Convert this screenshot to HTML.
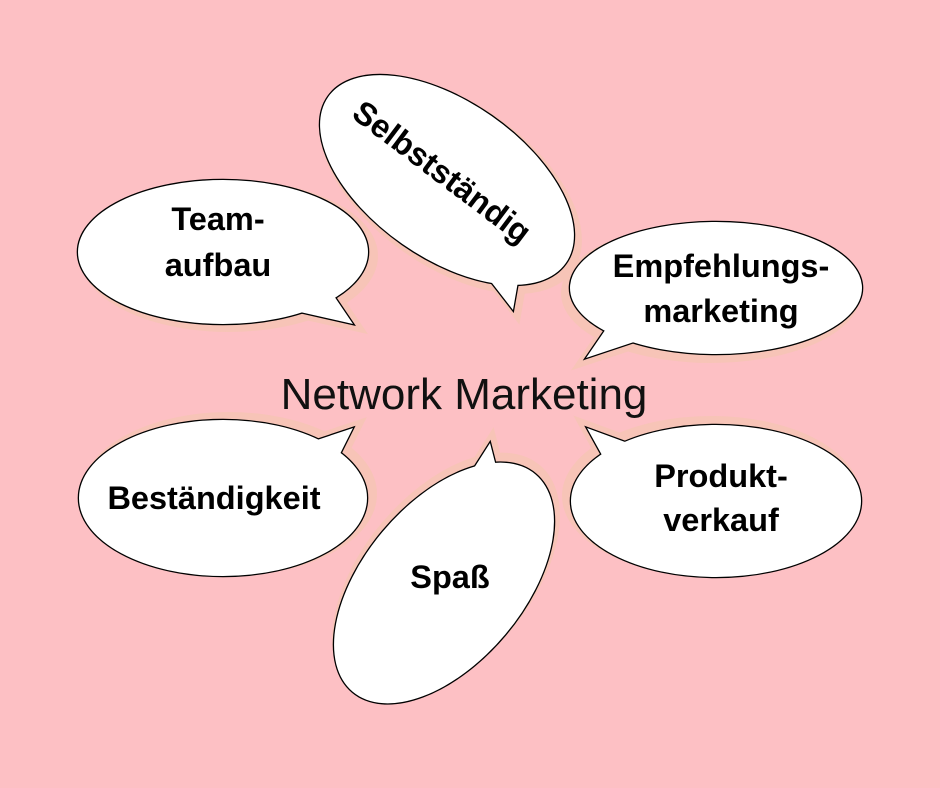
<!DOCTYPE html>
<html><head><meta charset="utf-8"><style>
html,body{margin:0;padding:0;background:#fdc0c4;}
svg{display:block}
text{font-family:"Liberation Sans",Arial,sans-serif;}
.l{font-weight:bold;font-size:32.5px;fill:#000;text-anchor:middle}
</style></head><body>
<svg width="940" height="788" viewBox="0 0 940 788" xmlns="http://www.w3.org/2000/svg">
<defs>
<g id="b1"><ellipse cx="223" cy="252" rx="145" ry="72"/><polygon points="330,290 353,324 300,312"/></g>
<g id="b2"><ellipse cx="447" cy="180" rx="145" ry="78" transform="rotate(35 447 180)"/><polygon points="478,265 513,310 520,270"/></g>
<g id="b3"><ellipse cx="716" cy="288" rx="146" ry="66"/><polygon points="612,320 586,358 640,340"/></g>
<g id="b4"><ellipse cx="223" cy="498" rx="144" ry="78"/><polygon points="336,462 353,428 302,445"/></g>
<g id="b5"><ellipse cx="444" cy="583" rx="142" ry="80" transform="rotate(-50 444 583)"/><polygon points="460,490 490,443 500,482"/></g>
<g id="b6"><ellipse cx="716" cy="501" rx="145" ry="76"/><polygon points="608,466 587,428 636,446"/></g>
</defs>
<g fill="#f7c4b6" stroke="#f7c4b6" stroke-width="8" opacity="0.9">
<use href="#b1" transform="translate(6,4)"/>
<use href="#b2" transform="translate(4,5)"/>
<use href="#b3" transform="translate(-5,5)"/>
<use href="#b4" transform="translate(6,-4)"/>
<use href="#b5" transform="translate(2,-6)"/>
<use href="#b6" transform="translate(-5,-5)"/>
</g>
<g fill="none" stroke="#000" stroke-width="2.6" stroke-linejoin="miter">
<use href="#b1"/><use href="#b2"/><use href="#b3"/><use href="#b4"/><use href="#b5"/><use href="#b6"/>
</g>
<g fill="#fff" stroke="none">
<use href="#b1"/><use href="#b2"/><use href="#b3"/><use href="#b4"/><use href="#b5"/><use href="#b6"/>
</g>
<text class="l" x="218" y="230">Team-</text>
<text class="l" x="218" y="276">aufbau</text>
<text class="l" transform="translate(442,172) rotate(37)" x="0" y="11">Selbstständig</text>
<text class="l" x="721" y="277">Empfehlungs-</text>
<text class="l" x="721" y="322">marketing</text>
<text x="464" y="409" font-size="44" text-anchor="middle" fill="#111">Network Marketing</text>
<text class="l" x="214" y="509">Beständigkeit</text>
<text class="l" x="450" y="588">Spaß</text>
<text class="l" x="721" y="487">Produkt-</text>
<text class="l" x="721" y="531">verkauf</text>
</svg>
</body></html>
